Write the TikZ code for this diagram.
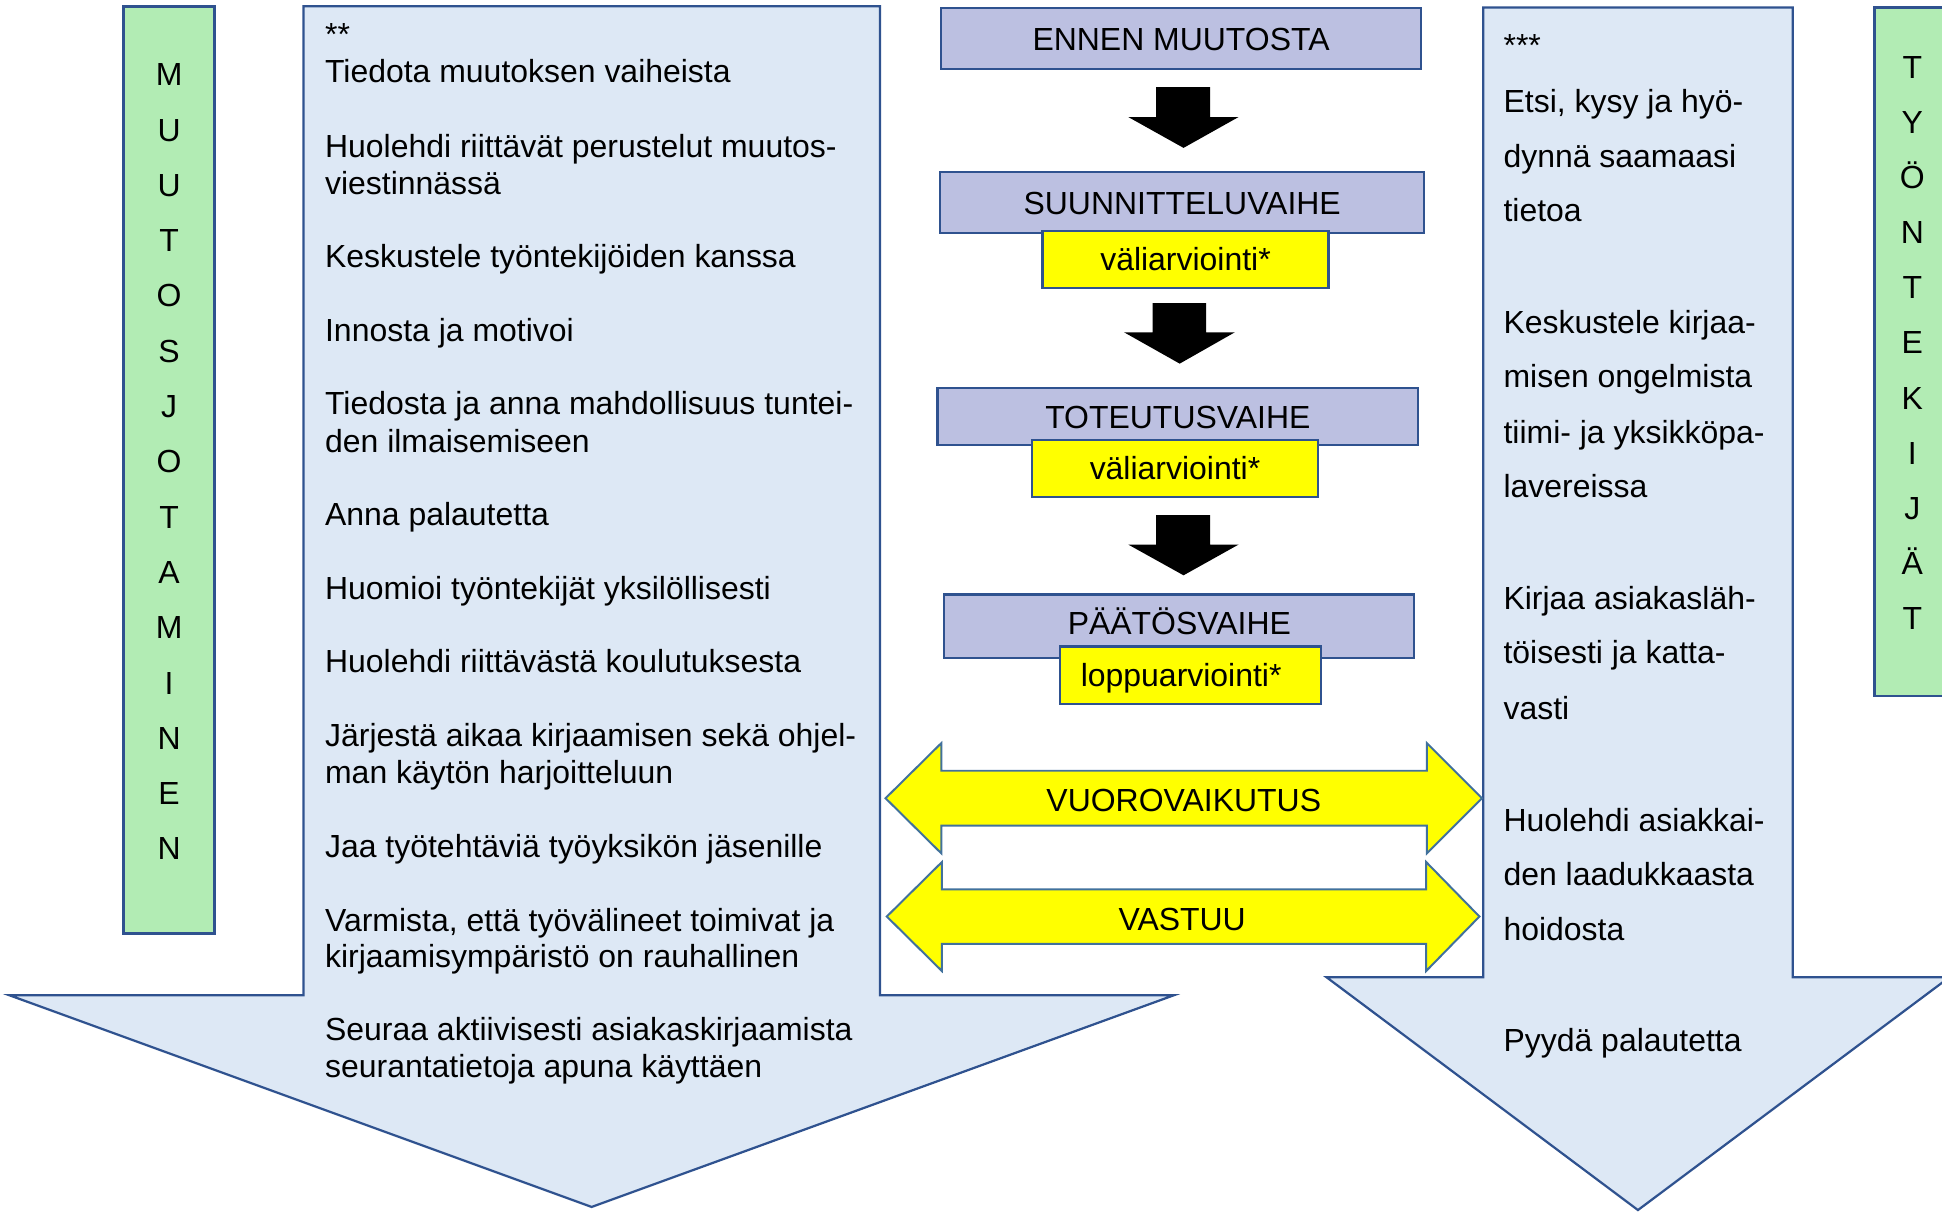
\documentclass[tikz,border=0pt]{standalone}
\usepackage{fontspec}
\setmainfont{Liberation Sans}
\definecolor{bord}{RGB}{47,82,143}
\definecolor{bordl}{RGB}{65,113,156}
\definecolor{lblue}{RGB}{221,232,245}
\definecolor{lpurp}{RGB}{188,192,225}
\definecolor{lgreen}{RGB}{178,236,180}
\definecolor{yel}{RGB}{255,255,0}
\begin{document}
\begin{tikzpicture}[x=1pt,y=-1pt,
  txt/.style={font=\fontsize{25.8pt}{30pt}\selectfont, inner sep=0pt, outer sep=0pt},
  ltxt/.style={txt, anchor=base west},
  letter/.style={txt, anchor=base},
  bigarrow/.style={draw=bord, line width=1.8pt, fill=lblue, line join=miter},
  phase/.style={txt, draw=bord, line width=1.8pt, fill=lpurp, text height=18.5pt, text depth=0pt},
  evalbox/.style={txt, draw=bord, line width=1.8pt, fill=yel, text height=18.5pt, text depth=0pt},
  sidebar/.style={draw=bord, line width=2.2pt, fill=lgreen},
  blk/.style={fill=black},
  dbl/.style={draw=bordl, line width=1.6pt, fill=yel, line join=miter},
  dbllabel/.style={txt, text height=18.5pt, text depth=0pt}]
\useasboundingbox (0,0) rectangle (1568,978);
\begin{scope}
\clip (0,0) rectangle (1568,978);

% big blue arrows
\draw[bigarrow] (245,5) -- (710.6,5) -- (710.6,803.5) -- (948,803.5) -- (477.7,974.5) -- (7.4,803.5) -- (245,803.5) -- cycle;
\draw[bigarrow] (1197.5,6) -- (1447.5,6) -- (1447.5,789) -- (1574,789) -- (1322.5,977) -- (1071,789) -- (1197.5,789) -- cycle;

% side bars
\draw[sidebar] (100,5.5) rectangle (173.3,753.5);
\draw[sidebar] (1513.5,6) rectangle (1580,562);
\end{scope}

\foreach \l [count=\i from 0] in {M,U,U,T,O,S,J,O,T,A,M,I,N,E,N}
  \node[letter] (mj\i) at (136.5,{69.3+44.64*\i}) {\l};
\foreach \l [count=\i from 0] in {T,Y,Ö,N,T,E,K,I,J,Ä,T}
  \node[letter] (tk\i) at (1544,{63.3+44.5*\i}) {\l};

% left texts
\foreach \y/\t [count=\i] in {
  37/**,
  67/Tiedota muutoksen vaiheista,
  127/Huolehdi riittävät perustelut muutos-,
  157/viestinnässä,
  216/Keskustele työntekijöiden kanssa,
  276/Innosta ja motivoi,
  335/Tiedosta ja anna mahdollisuus tuntei-,
  365/den ilmaisemiseen,
  424/Anna palautetta,
  484/Huomioi työntekijät yksilöllisesti,
  543/Huolehdi riittävästä koulutuksesta,
  603/Järjestä aikaa kirjaamisen sekä ohjel-,
  633/man käytön harjoitteluun,
  692/Jaa työtehtäviä työyksikön jäsenille,
  752/{Varmista, että työvälineet toimivat ja},
  781/kirjaamisympäristö on rauhallinen,
  840/Seuraa aktiivisesti asiakaskirjaamista,
  870/seurantatietoja apuna käyttäen}
  \node[ltxt] (L\i) at (262.5,\y) {\t};

% right texts
\foreach \y/\t [count=\i] in {
  46/***,
  91/{Etsi, kysy ja hyö-},
  135/dynnä saamaasi,
  179/tietoa,
  269/Keskustele kirjaa-,
  313/misen ongelmista,
  358/tiimi- ja yksikköpa-,
  402/lavereissa,
  492/Kirjaa asiakasläh-,
  536/töisesti ja katta-,
  581/vasti,
  671/Huolehdi asiakkai-,
  715/den laadukkaasta,
  759/hoidosta,
  849/Pyydä palautetta}
  \node[ltxt] (R\i) at (1214,\y) {\t};

% black arrows
\fill[blk] (933.4,70.4) -- (977,70.4) -- (977,94.5) -- (1000,94.5) -- (955.6,119.4) -- (911,94.5) -- (933.4,94.5) -- cycle;
\fill[blk] (930.6,244.7) -- (973.8,244.7) -- (973.8,268.3) -- (997,268.3) -- (952.5,293.6) -- (907.6,268.3) -- (930.6,268.3) -- cycle;
\fill[blk] (933.4,416) -- (977,416) -- (977,439.7) -- (1000,439.7) -- (955.6,464.5) -- (911,439.7) -- (933.4,439.7) -- cycle;

% phase boxes
\node[phase, minimum width=387.2pt, minimum height=49.7pt] (ennen) at (953.6,31.15) {ENNEN MUUTOSTA};
\node[phase, minimum width=391pt, minimum height=49.3pt] (suun) at (954.5,163.6) {SUUNNITTELUVAIHE};
\node[evalbox, minimum width=230.9pt, minimum height=45.9pt] (eval1) at (957.2,209.5) {väliarviointi*};
\node[phase, minimum width=388pt, minimum height=45.9pt] (tot) at (951,336.5) {TOTEUTUSVAIHE};
\node[evalbox, minimum width=230.5pt, minimum height=46pt] (eval2) at (948.7,378) {väliarviointi*};
\node[phase, minimum width=379.5pt, minimum height=51pt, text depth=5pt] (paat) at (952.2,505.5) {PÄÄTÖSVAIHE};
\node[evalbox, minimum width=210.5pt, minimum height=46.3pt] (eval3) at (961.2,545.2) {loppuarviointi*\kern15pt};

% double arrows
\draw[dbl] (715,644.5) -- (760,600) -- (760,622.3) -- (1152,622.3) -- (1152,600) -- (1196.5,644.5) -- (1152,689) -- (1152,666.7) -- (760,666.7) -- (760,689) -- cycle;
\node[dbllabel] (vuoro) at (955.8,646) {VUOROVAIKUTUS};
\draw[dbl] (716,740) -- (760.5,696) -- (760.5,718) -- (1151.5,718) -- (1151.5,696) -- (1194.5,740) -- (1151.5,784) -- (1151.5,762) -- (760.5,762) -- (760.5,784) -- cycle;
\node[dbllabel] (vastuu) at (954.5,741.7) {VASTUU};
\end{tikzpicture}
\end{document}
